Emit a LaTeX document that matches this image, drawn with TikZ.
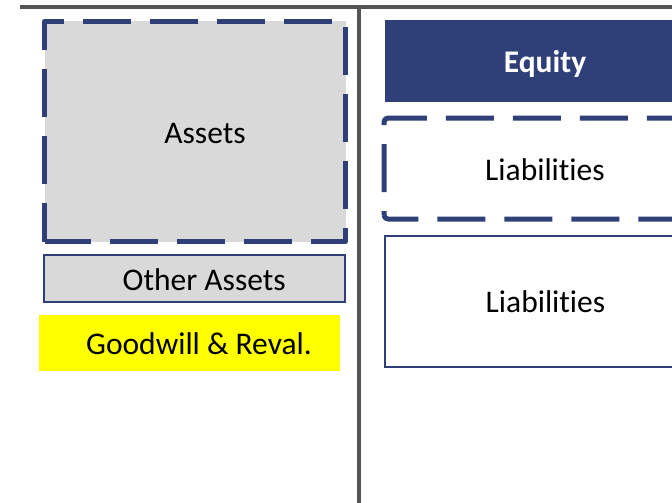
\documentclass[tikz,border=0pt]{standalone}
\usepackage{fontspec}
\setmainfont[Ligatures={NoCommon,NoContextual}]{Carlito}
\definecolor{navy}{RGB}{47,64,121}
\definecolor{boxgray}{RGB}{217,217,217}
\definecolor{linegray}{RGB}{85,85,85}
\definecolor{hiyellow}{RGB}{255,255,0}
\begin{document}
\begin{tikzpicture}[x=1pt,y=-1pt,
  every node/.style={outer sep=0pt,inner sep=0pt,text height=23pt,text depth=0pt,
    font=\fontsize{31.5}{36}\selectfont},
  frameline/.style={draw=linegray,line width=4pt},
  dashborder/.style={draw=navy,line width=5pt,dash pattern=on 48pt off 19pt,line join=round},
  graybox/.style={fill=boxgray},
  solidbox/.style={draw=navy,line width=1.6pt}]
\useasboundingbox (0,0) rectangle (672,503);
\clip (0,0) rectangle (672,503);
% frame lines
\coordinate (topL) at (20,7);
\coordinate (topR) at (690,7);
\coordinate (midT) at (359,7);
\coordinate (midB) at (359,510);
\draw[frameline] (topL) -- (topR);
\draw[frameline] (midT) -- (midB);
% left column
\node[graybox,minimum width=301pt,minimum height=220pt] (assets) at (195,131.5) {\hspace*{20pt}Assets};
\draw[dashborder,dash phase=9.5pt] (assets.south west) -- (assets.north west) -- (assets.north east) -- (assets.south east) -- cycle;
\node[graybox,solidbox,minimum width=301pt,minimum height=47pt] (other) at (194.7,278.5) {\hspace*{19pt}Other Assets};
\node[fill=hiyellow,minimum width=301pt,minimum height=56pt] (goodwill) at (189.5,343) {\hspace*{19pt}Goodwill \& Reval.};
% right column
\node[fill=navy,text=white,font=\fontsize{31.5}{36}\selectfont\bfseries,minimum width=320pt,minimum height=81.7pt] (equity) at (545,60.8) {Equity};
\node[fill=white,minimum width=322pt,minimum height=101pt] (liabD) at (545,168.5) {Liabilities};
\draw[dashborder,dash phase=44pt,rounded corners=4pt] (liabD.south west) -- (liabD.north west) -- ([xshift=-21pt]liabD.north east) -- ([xshift=-21pt]liabD.south east) -- cycle;
\node[fill=white,solidbox,minimum width=321pt,minimum height=130.7pt] (liabS) at (545.5,301.4) {Liabilities};
\end{tikzpicture}
\end{document}
